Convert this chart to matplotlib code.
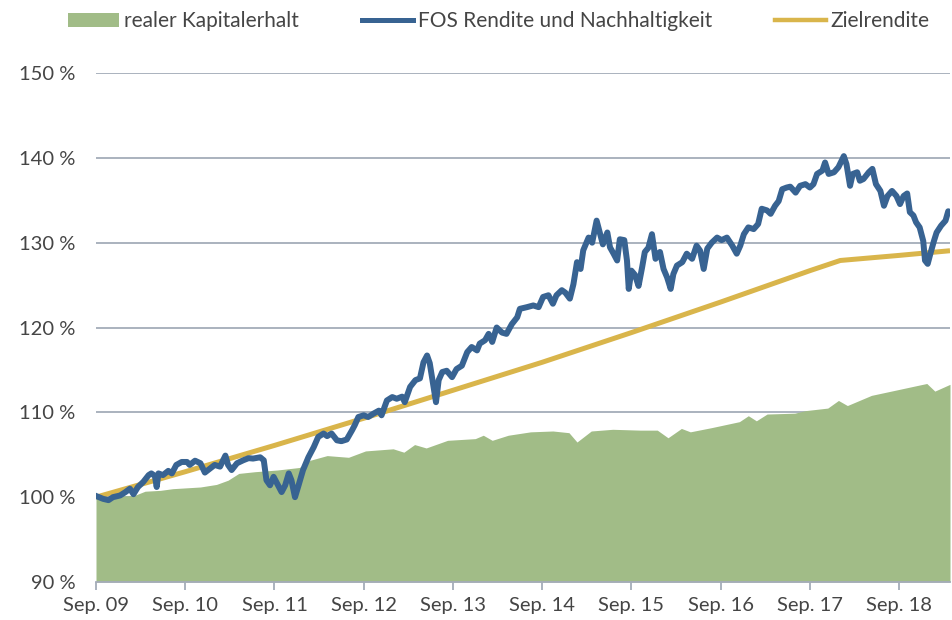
import matplotlib
matplotlib.use("Agg")
import matplotlib.pyplot as plt
from matplotlib.patches import Patch
from matplotlib.lines import Line2D

# x positions: years since Sep. 2009
fos_t = [0.01, 0.08, 0.14, 0.19, 0.27, 0.33, 0.38, 0.42, 0.47, 0.53, 0.59, 0.62, 0.66, 0.68, 0.70,
         0.75, 0.81, 0.85, 0.90, 0.96, 1.02, 1.05, 1.11, 1.17, 1.22, 1.28, 1.33, 1.39, 1.45, 1.48,
         1.52, 1.58, 1.65, 1.71, 1.76, 1.84, 1.88, 1.91, 1.95, 1.99, 2.03, 2.08, 2.12, 2.16, 2.19,
         2.23, 2.27, 2.32, 2.38, 2.44, 2.49, 2.55, 2.59, 2.64, 2.70, 2.75, 2.81, 2.87, 2.90, 2.94,
         3.00, 3.05, 3.11, 3.17, 3.20, 3.26, 3.32, 3.37, 3.43, 3.46, 3.52, 3.58, 3.63, 3.67, 3.71,
         3.74, 3.77, 3.81, 3.84, 3.88, 3.93, 3.99, 4.04, 4.10, 4.16, 4.21, 4.27, 4.30, 4.36, 4.40,
         4.44, 4.49, 4.55, 4.60, 4.66, 4.72, 4.75, 4.83, 4.90, 4.96, 5.01, 5.07, 5.12, 5.16, 5.22,
         5.26, 5.31, 5.35, 5.39, 5.43, 5.46, 5.52, 5.56, 5.61, 5.64, 5.68, 5.73, 5.76, 5.80, 5.84,
         5.87, 5.92, 5.95, 5.97, 6.00, 6.04, 6.08, 6.12, 6.15, 6.19, 6.23, 6.27, 6.32, 6.36, 6.40,
         6.44, 6.47, 6.51, 6.57, 6.62, 6.68, 6.73, 6.77, 6.81, 6.85, 6.90, 6.96, 7.01, 7.07, 7.13,
         7.18, 7.22, 7.26, 7.31, 7.37, 7.42, 7.46, 7.52, 7.56, 7.61, 7.65, 7.69, 7.74, 7.78, 7.84,
         7.89, 7.95, 8.00, 8.04, 8.08, 8.14, 8.17, 8.21, 8.27, 8.32, 8.38, 8.41, 8.45, 8.48, 8.53,
         8.56, 8.60, 8.66, 8.70, 8.74, 8.79, 8.83, 8.87, 8.92, 8.97, 9.01, 9.05, 9.09, 9.12, 9.16,
         9.19, 9.23, 9.27, 9.29, 9.32, 9.35, 9.39, 9.42, 9.47, 9.52, 9.55, 9.57]
fos_v = [100.1, 99.8, 99.65, 100.0, 100.2, 100.6, 101.0, 100.35, 101.2, 101.8, 102.6, 102.8, 102.5, 101.2, 102.8,
         102.6, 103.1, 102.8, 103.8, 104.15, 104.15, 103.8, 104.3, 104.0, 102.9, 103.4, 103.8, 103.6, 104.9, 103.8,
         103.2, 104.0, 104.35, 104.6, 104.55, 104.7, 104.35, 102.0, 101.4, 102.4, 101.6, 100.6, 101.4, 102.8, 102.0,
         100.0, 101.4, 103.2, 104.7, 105.9, 107.1, 107.5, 107.2, 107.5, 106.7, 106.6, 106.8, 107.9, 108.5, 109.45,
         109.65, 109.45, 109.85, 110.2, 109.65, 111.4, 111.8, 111.6, 111.85, 111.2, 113.0, 113.8, 114.0, 115.9, 116.7,
         115.8, 113.8, 111.2, 113.8, 114.75, 114.9, 114.15, 115.1, 115.5, 117.1, 117.7, 117.3, 118.1, 118.5, 119.25,
         118.3, 120.0, 119.4, 119.25, 120.4, 121.2, 122.2, 122.4, 122.6, 122.4, 123.6, 123.8, 122.8, 123.8, 124.4,
         124.1, 123.4, 125.1, 127.7, 126.9, 129.1, 130.6, 130.0, 132.6, 131.4, 129.8, 131.2, 129.45, 128.7, 127.9,
         130.4, 130.3, 127.9, 124.55, 126.7, 126.2, 124.9, 127.1, 128.9, 129.4, 131.0, 128.1, 128.9, 126.9, 125.9,
         124.55, 126.3, 127.3, 127.7, 128.7, 128.1, 129.65, 129.05, 126.9, 129.3, 130.0, 130.6, 130.3, 130.6, 129.65,
         128.7, 129.65, 131.0, 131.8, 131.6, 132.2, 134.0, 133.8, 133.4, 134.35, 134.9, 136.3, 136.5, 136.6, 135.9,
         136.7, 136.9, 136.5, 136.9, 138.1, 138.5, 139.45, 138.1, 138.3, 138.9, 140.2, 139.25, 136.7, 138.1, 138.3,
         137.3, 137.5, 138.3, 138.7, 136.9, 136.1, 134.35, 135.5, 136.1, 135.5, 134.55, 135.5, 135.8, 133.6, 133.2,
         132.4, 131.8, 130.2, 127.9, 127.5, 128.7, 130.2, 131.2, 132.0, 132.6, 133.7, 133.6]

ziel_t = [0.0, 1.0, 2.0, 3.0, 4.0, 5.0, 6.0, 7.0, 8.0, 8.34, 9.0, 9.57]
ziel_v = [100.0, 103.0, 106.1, 109.3, 112.6, 115.9, 119.4, 123.0, 126.7, 127.9, 128.5, 129.05]

kap_t = [0.0, 0.43, 0.55, 0.72, 0.86, 1.17, 1.35, 1.48, 1.60, 1.78, 2.03, 2.28, 2.40, 2.59, 2.83,
         3.02, 3.33, 3.45, 3.57, 3.70, 3.94, 4.25, 4.34, 4.44, 4.62, 4.87, 5.12, 5.30, 5.39, 5.55,
         5.79, 6.10, 6.29, 6.41, 6.56, 6.66, 6.90, 7.21, 7.31, 7.40, 7.52, 7.83, 7.95, 8.20, 8.32,
         8.42, 8.69, 9.00, 9.22, 9.31, 9.40, 9.57]
kap_v = [100.0, 100.2, 100.7, 100.8, 101.0, 101.2, 101.5, 102.0, 102.8, 103.0, 103.2, 103.5, 104.35, 104.9, 104.7,
         105.45, 105.7, 105.3, 106.2, 105.8, 106.7, 106.9, 107.3, 106.7, 107.3, 107.7, 107.8, 107.6, 106.5, 107.8,
         108.0, 107.9, 107.9, 107.0, 108.1, 107.7, 108.2, 108.9, 109.6, 109.0, 109.8, 109.9, 110.2, 110.5, 111.4,
         110.8, 112.0, 112.7, 113.2, 113.4, 112.5, 113.3]

tick_pos = [0, 1, 2, 3, 4, 5, 6, 7, 8, 9]
tick_labels = ["Sep. 09", "Sep. 10", "Sep. 11", "Sep. 12", "Sep. 13",
               "Sep. 14", "Sep. 15", "Sep. 16", "Sep. 17", "Sep. 18"]
y_ticks = [90, 100, 110, 120, 130, 140, 150]
legend_labels = ["realer Kapitalerhalt", "FOS Rendite und Nachhaltigkeit", "Zielrendite"]

GREEN = "#a1bc87"
BLUE = "#386392"
GOLD = "#d9b54b"
GRID = "#a4acb9"
TXT = "#454545"

plt.rcParams['font.family'] = ['Lato', 'DejaVu Sans']

fig = plt.figure(figsize=(9.53, 6.2), dpi=100)
ax = fig.add_axes([96/953, 38/620, (950-96)/953, (582-73)/620])

ax.set_xlim(0, 9.57)
ax.set_ylim(90, 150)

for y in y_ticks[1:]:
    ax.axhline(y, color=GRID, lw=1.3, zorder=1)

ax.fill_between(kap_t, 90, kap_v, color=GREEN, lw=0, zorder=2)
ax.plot(ziel_t, ziel_v, color=GOLD, lw=3.6, zorder=3, solid_capstyle='butt')
ax.plot(fos_t, fos_v, color=BLUE, lw=4.3, zorder=4, solid_joinstyle='round')

for s in ['top', 'right', 'left']:
    ax.spines[s].set_visible(False)
ax.spines['bottom'].set_color(GRID)
ax.spines['bottom'].set_linewidth(1.3)
ax.spines['bottom'].set_zorder(5)

ax.set_xticks(tick_pos)
ax.set_xticklabels(tick_labels)
ax.set_yticks(y_ticks)
ax.set_yticklabels([f"{v} %" for v in y_ticks])
ax.tick_params(axis='x', length=6, width=1.3, color=GRID, labelsize=14.5, labelcolor=TXT, pad=5)
ax.tick_params(axis='y', length=0, labelsize=14.5, labelcolor=TXT, pad=15)

handles = [Patch(facecolor=GREEN, edgecolor='none'),
           Line2D([0], [0], color=BLUE, lw=3.6),
           Line2D([0], [0], color=GOLD, lw=3.2)]
leg = fig.legend(handles, legend_labels, loc='upper center', bbox_to_anchor=(0.5235, 1.012),
                 ncol=3, frameon=False, fontsize=15, handlelength=2.45, handletextpad=0.25,
                 columnspacing=3.0, labelcolor=TXT)

fig.savefig("out.png", dpi=100)
